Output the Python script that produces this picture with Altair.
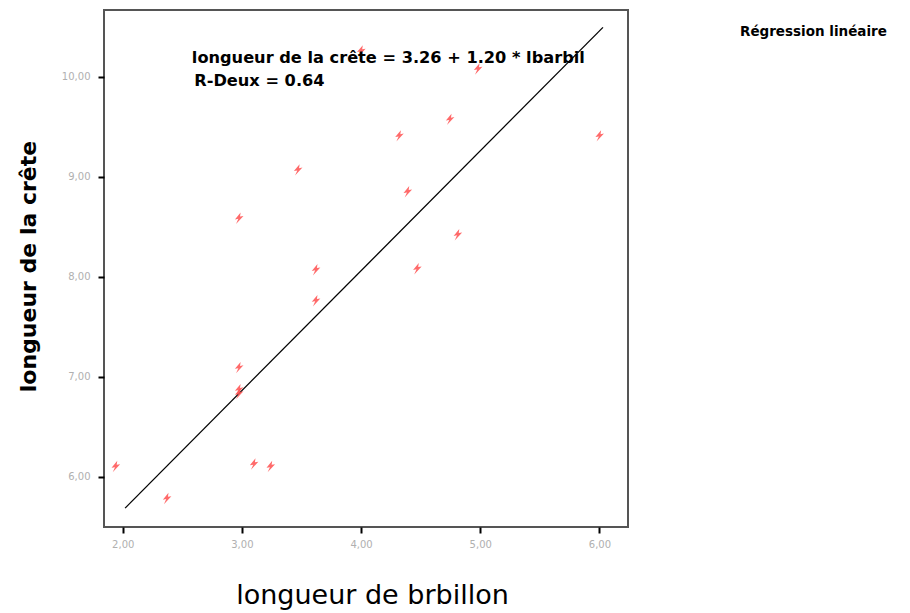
import altair as alt
import pandas as pd

# data
barbillon = [1.94, 2.37, 2.975, 3.47, 3.62, 3.62, 2.975, 2.975, 2.975, 3.10, 3.24,
             4.00, 4.98, 4.745, 4.32, 6.00, 4.39, 4.81, 4.47]
crete = [6.10, 5.78, 8.585, 9.07, 8.07, 7.76, 7.09, 6.87, 6.83, 6.125, 6.10,
         10.26, 10.08, 9.575, 9.41, 9.41, 8.85, 8.42, 8.08]

intercept = 3.26
slope = 1.20
fit_x = [2.02, 6.03]
fit_y = [intercept + slope * v for v in fit_x]

eq_lines = ["longueur de la crête = 3.26 + 1.20 * lbarbil", "R-Deux = 0.64"]
eq_x = [2.58, 2.60]
eq_y = [10.19, 9.96]

x_ticks = [2, 3, 4, 5, 6]
y_ticks = [6, 7, 8, 9, 10]

pts = pd.DataFrame({"x": barbillon, "y": crete})
fit = pd.DataFrame({"x": fit_x, "y": fit_y})
eq = pd.DataFrame({"x": eq_x, "y": eq_y, "t": eq_lines})
leg = pd.DataFrame({"t": ["Régression linéaire"]})

xs = alt.Scale(domain=[1.843, 6.24], nice=False, zero=False)
ys = alt.Scale(domain=[5.495, 10.67], nice=False, zero=False)

xaxis = alt.Axis(values=x_ticks, format=".2f", labelExpr="replace(datum.label, '.', ',')",
                 title="longueur de brbillon", domain=False, grid=False,
                 tickColor="black", tickWidth=2, tickSize=6, labelColor="#b0b0b0",
                 labelFontSize=10, labelFont="DejaVu Sans", labelPadding=6,
                 titleFont="DejaVu Sans", titleFontSize=27, titleFontWeight="normal",
                 titleColor="black", titleY=68, titleBaseline="middle", titleX=268)
yaxis = alt.Axis(values=y_ticks, format=".2f", labelExpr="replace(datum.label, '.', ',')",
                 title="longueur de la crête", domain=False, grid=False,
                 tickColor="black", tickWidth=2, tickSize=6, labelColor="#b0b0b0",
                 labelFontSize=10, labelFont="DejaVu Sans", labelPadding=8,
                 titleFont="DejaVu Sans", titleFontSize=22, titleFontWeight="bold",
                 titleColor="black", titleAngle=-90, titleX=-76, titleY=256,
                 titleAlign="center", titleBaseline="middle")

shape = "M-0.5,1 L-0.1,0.1 L-0.7,0.2 L0.3,-1 L0.2,-0.3 L0.8,-0.4 Z"

points = alt.Chart(pts).mark_point(shape=shape, filled=True, color="#ff5050",
                                   size=130, opacity=0.85).encode(
    x=alt.X("x:Q", scale=xs, axis=xaxis),
    y=alt.Y("y:Q", scale=ys, axis=yaxis),
)

line = alt.Chart(fit).mark_line(color="black", strokeWidth=1.3).encode(
    x=alt.X("x:Q", scale=xs), y=alt.Y("y:Q", scale=ys))

text = alt.Chart(eq).mark_text(align="left", baseline="middle", font="DejaVu Sans",
                               fontSize=16.2, fontWeight="bold", color="black").encode(
    x=alt.X("x:Q", scale=xs), y=alt.Y("y:Q", scale=ys), text="t:N")

legend = alt.Chart(leg).mark_text(align="left", baseline="middle", font="DejaVu Sans",
                                  fontSize=13.5, fontWeight="bold", color="black").encode(
    x=alt.value(636), y=alt.value(22), text="t:N")

chart = alt.layer(line, points, text, legend).properties(
    width=524, height=517,
    autosize=alt.AutoSizeParams(type="none"),
    padding={"left": 104, "top": 10, "right": 282, "bottom": 86},
).configure_view(stroke="#555555", strokeWidth=2)

chart.save("out.html", embed_options={"renderer": "svg", "actions": False})
